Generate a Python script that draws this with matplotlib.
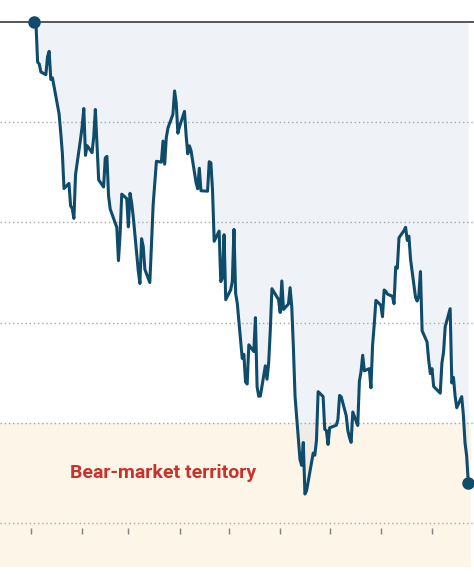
import pandas as pd
import matplotlib.pyplot as plt
import matplotlib.dates as mdates

# S&P 500 daily closes, Jan 3 - Sep 23 2022
jan = [4796.56, 4793.54, 4700.58, 4696.05, 4677.03, 4670.29, 4713.07, 4726.35, 4659.03, 4662.85,
       4577.11, 4532.76, 4482.73, 4397.94, 4410.13, 4356.45, 4349.93, 4326.51, 4431.85, 4515.55]
feb = [4546.54, 4589.38, 4477.44, 4500.53, 4483.87, 4521.54, 4587.18, 4504.08, 4418.64, 4401.67,
       4471.07, 4475.01, 4380.26, 4348.87, 4304.76, 4225.50, 4288.70, 4384.65, 4373.94]
mar = [4306.26, 4386.54, 4363.49, 4328.87, 4201.09, 4170.70, 4277.88, 4259.52, 4204.31, 4173.11,
       4262.45, 4357.86, 4411.67, 4463.12, 4461.18, 4511.61, 4456.24, 4520.16, 4543.06, 4575.52,
       4631.60, 4602.45, 4530.41]
apr = [4545.86, 4582.64, 4525.12, 4481.15, 4500.21, 4488.28, 4412.53, 4397.45, 4446.59, 4392.59,
       4391.69, 4462.21, 4459.45, 4393.66, 4271.78, 4296.12, 4175.20, 4183.96, 4287.50, 4131.93]
may = [4155.38, 4175.48, 4300.17, 4146.87, 4123.34, 3991.24, 4001.05, 3935.18, 3930.08, 4023.89,
       4008.01, 4088.85, 3923.68, 3900.79, 3901.36, 3973.75, 3941.48, 3978.73, 4057.84, 4158.24,
       4132.15]
jun = [4101.23, 4176.82, 4108.54, 4121.43, 4160.68, 4115.77, 4017.82, 3900.86, 3749.63, 3735.48,
       3789.99, 3666.77, 3674.84, 3764.79, 3759.89, 3795.73, 3911.74, 3900.11, 3821.55, 3818.83,
       3785.38]
jul = [3825.33, 3831.39, 3845.08, 3902.62, 3899.38, 3854.43, 3818.80, 3801.78, 3790.38, 3863.16,
       3830.85, 3936.69, 3959.90, 3998.95, 3961.63, 3966.84, 3921.05, 4023.61, 4072.43, 4130.29]
aug = [4118.63, 4091.19, 4155.17, 4151.94, 4145.19, 4140.06, 4122.47, 4210.24, 4207.27, 4280.15,
       4297.14, 4305.20, 4274.04, 4283.74, 4228.48, 4137.99, 4128.73, 4140.77, 4199.12, 4057.66,
       4030.61, 3986.16, 3955.00]
sep = [3966.85, 3924.26, 3908.19, 3979.87, 4006.18, 4067.36, 4110.41, 3932.69, 3946.01, 3901.35,
       3873.33, 3899.89, 3855.93, 3789.93, 3757.99, 3693.23]

holidays = ['2022-01-17', '2022-02-21', '2022-04-15', '2022-05-30', '2022-06-20',
            '2022-07-04', '2022-09-05']
gridlines = [-5, -10, -15, -20, -25]
bear_level = -20
month_ticks = pd.date_range('2022-01-01', '2022-09-01', freq='MS')

closes = jan + feb + mar + apr + may + jun + jul + aug + sep
days = pd.bdate_range('2022-01-03', '2022-09-23')
days = days[~days.isin(pd.to_datetime(holidays))]
pct = [(c / closes[0] - 1) * 100 for c in closes]
x = mdates.date2num(days)

line_color = '#0f4c6b'

fig = plt.figure(figsize=(4.74, 5.74), dpi=100)
ax = fig.add_axes([0, 0, 1, 1])
ax.axis('off')

x0 = mdates.date2num(pd.Timestamp('2022-01-01'))
px_day = 401 / 243
ax.set_xlim(x0 - 31 / px_day, x0 + 443 / px_day)
px_pct = 501 / 25
ax.set_ylim(-(574 - 22) / px_pct, 22 / px_pct)

# bear market zone
ax.axhspan(-(567 - 22) / px_pct, bear_level, xmin=0, xmax=471 / 474,
           color='#fdf5e7', lw=0, zorder=0)

ax.fill_between(x, 0, pct, color='#cddaea', alpha=0.3, lw=0, zorder=1)

for g in gridlines:
    ax.axhline(g, color='#a8a8a8', lw=1, ls=(0, (1, 2)), zorder=2)
ax.axhline(0, color='#555555', lw=1.4, zorder=2)

tick_x = mdates.date2num(month_ticks)
ax.vlines(tick_x, -(528 - 22) / px_pct, -(534 - 22) / px_pct, color='#808080', lw=1, zorder=2)

ax.plot(x, pct, color=line_color, lw=2.2, solid_joinstyle='round', zorder=3)
ax.plot([x[0], x[-1]], [pct[0], pct[-1]], 'o', color=line_color, ms=8, zorder=4)

fig.text(163.5 / 474, 1 - 473 / 574, 'Bear-market territory', color='#c8322a',
         fontsize=14, fontweight='bold', ha='center', va='center',
         family=['Roboto', 'DejaVu Sans'])

fig.savefig('out.png', dpi=100)
